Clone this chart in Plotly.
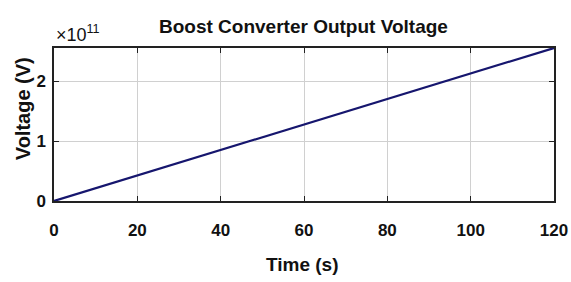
import plotly.graph_objects as go

time_s = [0, 120]
voltage_v = [0, 2.55e11]
x_ticks = [0, 20, 40, 60, 80, 100, 120]
y_tick_vals = [0, 1e11, 2e11]
y_tick_text = ["0", "1", "2"]

FONT = "Liberation Sans, Arial, sans-serif"
INK = "#111"

fig = go.Figure()
fig.add_trace(go.Scatter(x=time_s, y=voltage_v, mode="lines", hoverinfo="skip",
                         line=dict(color="#16166e", width=2.2), showlegend=False))

axis_common = dict(showline=True, linecolor="#222", linewidth=1.5, mirror="ticks",
                   ticks="inside", ticklen=5, tickcolor="#222", automargin=False,
                   showgrid=True, gridcolor="#d0d0d0", gridwidth=1, zeroline=False)

fig.update_xaxes(range=[0, 120], tickvals=x_ticks, **axis_common, ticklabelstandoff=13,
                 tickfont=dict(family=FONT, size=17, color=INK, weight="bold"))
fig.update_yaxes(range=[0, 2.55e11], tickvals=y_tick_vals, ticktext=y_tick_text, **axis_common,
                 ticklabelstandoff=3,
                 tickfont=dict(family=FONT, size=17, color=INK, weight="bold"))

fig.add_annotation(text="Boost Converter Output Voltage", xref="paper", yref="paper",
                   x=0.498, y=1.14, xanchor="center", yanchor="middle", showarrow=False,
                   font=dict(family=FONT, size=19, color=INK, weight="bold"))
fig.add_annotation(text="Time (s)", xref="paper", yref="paper", x=0.496, y=-0.418,
                   xanchor="center", yanchor="middle", showarrow=False,
                   font=dict(family=FONT, size=19, color=INK, weight="bold"))
fig.add_annotation(text="Voltage (V)", xref="paper", yref="paper", x=-0.062, y=0.6,
                   xanchor="center", yanchor="middle", showarrow=False, textangle=-90,
                   font=dict(family=FONT, size=20, color=INK, weight="bold"))
fig.add_annotation(text="×10<sup>11</sup>", xref="paper", yref="paper", x=0, y=1.005,
                   xanchor="left", yanchor="bottom", showarrow=False,
                   font=dict(family=FONT, size=18, color=INK))

fig.update_layout(
    width=571, height=282,
    margin=dict(l=54, r=17, t=48, b=81),
    paper_bgcolor="white", plot_bgcolor="white",
    hovermode=False,
)

# remove the default 8px page margin so the figure fills the window exactly
fig.write_html("out.html", config={"displayModeBar": False},
               post_script="document.body.style.margin='0';document.body.style.overflow='hidden';")
